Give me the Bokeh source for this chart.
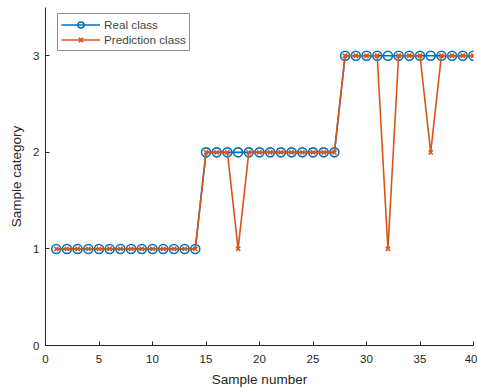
from bokeh.plotting import figure
from bokeh.models import Range1d, FixedTicker
from bokeh.embed import file_html
from bokeh.resources import INLINE

samples = list(range(1, 41))
real_class = [1]*14 + [2]*13 + [3]*13
pred_class = [1]*14 + [2, 2, 2, 1, 2, 2, 2, 2, 2, 2, 2, 2, 2] + [3, 3, 3, 3, 1, 3, 3, 3, 2, 3, 3, 3, 3]
x_ticks = [0, 5, 10, 15, 20, 25, 30, 35, 40]
y_ticks = [0, 1, 2, 3]

blue = "#0072BD"
orange = "#D95319"
font = "Liberation Sans"

p = figure(frame_width=428, frame_height=338, output_backend="svg", toolbar_location=None,
           x_range=Range1d(0, 40), y_range=Range1d(0, 3.5),
           min_border_left=45, min_border_right=4, min_border_top=7, min_border_bottom=36)
p.outline_line_color = None
p.xgrid.visible = False
p.ygrid.visible = False

p.line(samples, real_class, line_color=blue, line_width=1.6, legend_label="Real class")
p.scatter(samples, real_class, marker="circle", size=9, fill_color=None,
          line_color=blue, line_width=1.6, legend_label="Real class")
p.line(samples, pred_class, line_color=orange, line_width=1.6, legend_label="Prediction class")
p.scatter(samples, pred_class, marker="x", size=6, line_color=orange,
          line_width=1.6, legend_label="Prediction class")

for ax in (p.xaxis, p.yaxis):
    ax.major_tick_in = 4
    ax.major_tick_out = 0
    ax.minor_tick_line_color = None
    ax.axis_line_color = "#262626"
    ax.major_tick_line_color = "#262626"
    ax.major_label_text_font = font
    ax.major_label_text_font_size = "11.5px"
    ax.major_label_text_color = "#262626"
    ax.axis_label_text_font = font
    ax.axis_label_text_font_size = "13.5px"
    ax.axis_label_text_font_style = "normal"
    ax.axis_label_text_color = "#262626"

p.xaxis.ticker = FixedTicker(ticks=x_ticks)
p.yaxis.ticker = FixedTicker(ticks=y_ticks)
p.xaxis.axis_label = "Sample number"
p.yaxis.axis_label = "Sample category"
p.xaxis.major_label_standoff = 9
p.yaxis.major_label_standoff = 6
p.xaxis.axis_label_standoff = 6
p.yaxis.axis_label_standoff = 6

p.legend.location = (12, 294)
p.legend.border_line_color = "#262626"
p.legend.border_line_width = 1
p.legend.background_fill_alpha = 1
p.legend.label_text_font = font
p.legend.label_text_font_size = "11.7px"
p.legend.label_height = 15
p.legend.glyph_height = 15
p.legend.glyph_width = 39
p.legend.spacing = 0
p.legend.padding = 3
p.legend.margin = 0
p.legend.label_standoff = 4

open("out.html", "w").write(file_html(p, INLINE))
